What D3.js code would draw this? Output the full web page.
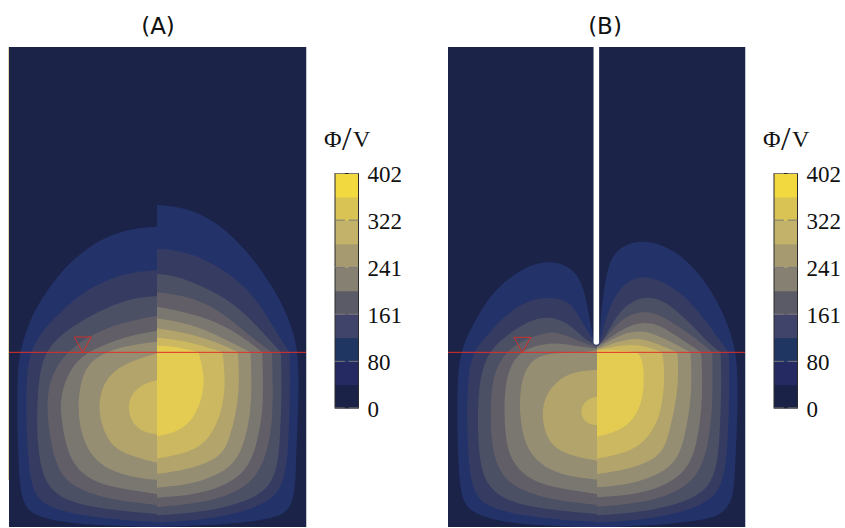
<!DOCTYPE html>
<html><head><meta charset="utf-8">
<script src="https://cdnjs.cloudflare.com/ajax/libs/d3/7.8.5/d3.min.js"></script>
<style>html,body{margin:0;background:#fff}svg{display:block}</style></head>
<body><svg id="c" width="845" height="528"></svg>
<script>
const panelTitles=["(A)","(B)"];
const tickValues=[402,322,241,161,80,0];
const maxValue=402;
const bandColors=["#1b2348","#23336a","#363b62","#4b5064","#625e68","#7a7670","#968e72","#b3a46b","#cbb860","#e4cc53"];
const barColors=["#1b2248","#252b62","#1f3562","#41446a","#5a5b66","#868072","#a69a70","#c3b26a","#d9c354","#f2d93f"];
// A repeated point marks a tight bend of the contour at the water line.
const aLeft=[
[[471,110],[400,115],[330,135],[260,175],[190,235],[121,330],[86,400],[61,480],[53,540],[52,660],[53,750],[58,880],[71,945],[102,976],[180,996],[300,1007],[471,1011]],
[[471,241],[400,246],[330,265],[260,300],[205,345],[141,405],[96,470],[80,540],[78,660],[81,750],[88,850],[102,908],[132,944],[200,968],[320,987],[471,997]],
[[471,318],[420,322],[371,332],[271,375],[171,440],[120,510],[110,660],[112,750],[123,840],[147,893],[198,933],[300,957],[471,972]],
[[471,377],[351,400],[241,450],[171,520],[145,590],[140,660],[151,750],[168,822],[197,873],[258,908],[350,932],[471,945]],
[[471,422],[371,440],[271,480],[216,525],[185,600],[180,660],[194,750],[213,812],[257,863],[330,892],[471,912]],
[[471,455],[390,465],[301,490],[246,540],[230,660],[249,750],[278,802],[328,842],[400,862],[471,870]],
[[471,490],[371,520],[310,570],[291,660],[320,752],[368,792],[471,818]],
[[471,570],[421,585],[389,620],[384,660],[398,702],[430,727],[471,733]]
];
const aRight=[
[[471,45],[520,48],[590,65],[660,105],[730,170],[790,248],[845,335],[880,425],[893,487],[896,560],[895,650],[890,750],[888,830],[884,920],[862,968],[811,988],[671,1004],[471,1011]],
[[471,176],[530,180],[600,200],[670,240],[730,285],[785,350],[831,430],[869,487],[869,487],[870,600],[867,750],[854,885],[803,943],[651,987],[471,998]],
[[471,252],[530,258],[600,285],[706,340],[791,430],[843,487],[843,487],[846,600],[840,750],[832,842],[793,918],[641,964],[471,976]],
[[471,307],[530,313],[601,332],[670,370],[740,430],[816,487],[816,487],[819,600],[817,680],[810,750],[773,878],[641,937],[471,951]],
[[471,350],[621,380],[721,435],[787,487],[787,487],[790,600],[786,680],[773,750],[743,852],[621,912],[471,923]],
[[471,385],[571,400],[671,445],[752,487],[752,487],[755,570],[753,660],[736,750],[703,832],[591,882],[471,893]],
[[471,415],[571,430],[671,465],[714,487],[714,487],[718,560],[713,650],[688,750],[663,802],[571,837],[471,852]],
[[471,443],[571,455],[668,487],[668,487],[675,560],[673,620],[657,690],[623,752],[571,787],[471,806]],
[[471,467],[531,470],[596,487],[596,487],[615,560],[606,630],[577,692],[530,727],[471,739]]
];
const bLeft=[
[[470,345],[461,335],[452,290],[440,220],[425,160],[400,120],[360,100],[320,94],[270,105],[210,140],[150,195],[106,270],[76,325],[56,390],[51,470],[51,630],[57,760],[70,822],[104,852],[178,875],[298,887],[470,893]],
[[470,345],[445,310],[425,275],[400,230],[370,208],[320,201],[270,210],[210,240],[126,330],[91,380],[80,480],[81,630],[88,730],[102,788],[132,824],[200,848],[320,867],[470,876]],
[[470,348],[430,325],[390,285],[350,265],[310,262],[270,270],[191,320],[136,375],[112,480],[112,630],[123,722],[147,773],[198,813],[300,837],[470,852]],
[[470,351],[430,340],[390,320],[350,308],[321,305],[221,340],[171,400],[150,480],[151,630],[168,702],[197,753],[258,788],[350,812],[470,825]],
[[470,355],[430,352],[390,345],[350,340],[321,340],[251,355],[211,400],[190,480],[194,630],[213,692],[257,743],[330,772],[470,792]],
[[470,360],[420,368],[351,368],[281,380],[250,430],[240,480],[237,540],[249,630],[278,682],[328,722],[400,742],[470,749]],
[[470,420],[391,425],[336,465],[311,510],[304,560],[320,632],[368,672],[470,692]],
[[470,500],[445,505],[426,525],[421,545],[430,572],[450,584],[470,586]]
];
const bRight=[
[[470,345],[478,335],[480,280],[490,180],[505,100],[530,60],[570,38],[620,32],[680,50],[740,90],[800,160],[850,250],[878,330],[890,390],[893,500],[888,630],[882,770],[873,815],[843,857],[771,873],[621,887],[470,893]],
[[470,345],[478,340],[495,270],[520,200],[560,155],[600,138],[650,145],[720,185],[780,250],[830,320],[866,367],[866,367],[867,500],[863,630],[851,762],[803,823],[650,867],[470,878]],
[[470,348],[480,345],[510,290],[545,235],[590,205],[640,200],[690,225],[750,280],[800,335],[841,367],[841,367],[844,460],[838,630],[828,722],[792,798],[640,844],[470,856]],
[[470,350],[478,345],[510,305],[550,262],[600,243],[650,250],[700,280],[760,320],[816,367],[816,367],[818,500],[808,630],[772,758],[640,817],[470,830]],
[[470,350],[478,345],[520,315],[560,290],[610,275],[660,285],[711,320],[783,367],[783,367],[788,500],[773,630],[742,732],[620,792],[470,802]],
[[470,352],[478,350],[520,325],[570,305],[610,302],[660,320],[710,345],[751,367],[751,367],[756,490],[733,630],[702,712],[590,762],[470,772]],
[[470,356],[480,355],[530,335],[580,325],[620,330],[670,350],[711,367],[711,367],[717,470],[683,630],[657,682],[570,717],[470,732]],
[[470,360],[478,358],[520,350],[571,343],[620,350],[666,367],[666,367],[675,440],[662,560],[618,632],[565,667],[470,686]],
[[470,362],[530,360],[590,367],[590,367],[606,385],[612,440],[607,510],[582,567],[540,602],[470,620]]
];
const triangleA=[[223,441],[274,441],[248,487]];
const triangleB=[[221,322],[272,322],[246,367]];
const slitB=[[468,-549],[468,336]];

const svg=d3.select("#c");
const panels=[
 {title:panelTitles[0],left:aLeft,right:aRight,tri:triangleA,x:d3.scaleLinear([27,918],[9,306]),y:d3.scaleLinear([-429,1011],[47,527]),water:487,cx:158,slit:null},
 {title:panelTitles[1],left:bLeft,right:bRight,tri:triangleB,x:d3.scaleLinear([23,914],[448,745]),y:d3.scaleLinear([-549,891],[47,527]),water:367,cx:605,slit:slitB}
];
panels.forEach((p,pi)=>{
 const [x0,x1]=p.x.domain(),[y0,y1]=p.y.domain();
 const id="clip"+pi;
 svg.append("clipPath").attr("id",id).append("rect").attr("x",p.x(x0)).attr("y",p.y(y0)).attr("width",p.x(x1)-p.x(x0)).attr("height",p.y(y1)-p.y(y0));
 const g=svg.append("g").attr("clip-path",`url(#${id})`);
 g.append("rect").attr("x",p.x(x0)).attr("y",p.y(y0)).attr("width",p.x(x1)-p.x(x0)).attr("height",p.y(y1)-p.y(y0)).attr("fill",bandColors[0]);
 const ln=d3.line().x(d=>p.x(d[0])).y(d=>p.y(d[1])).curve(d3.curveBasis);
 const draw=(set)=>set.forEach((pts,i)=>{
  g.append("path").attr("d",ln(pts)+"Z").attr("fill",bandColors[i+1]);
 });
 draw(p.left);draw(p.right);
 if(pi===0){
  svg.append("line").attr("x1",p.x(x0)-0.5).attr("x2",p.x(x0)-0.5).attr("y1",p.y(y0)).attr("y2",480).attr("stroke","#d8c98c").attr("stroke-width",1).attr("opacity",0.75);
 }
 svg.append("line").attr("x1",p.x(x1)+0.5).attr("x2",p.x(x1)+0.5).attr("y1",p.y(y0)).attr("y2",p.y(y1)).attr("stroke","#8b8f9e").attr("stroke-width",1).attr("opacity",0.5);
 if(p.slit){
  svg.append("line").attr("x1",p.x(p.slit[0][0])).attr("x2",p.x(p.slit[1][0])).attr("y1",p.y(p.slit[0][1])).attr("y2",p.y(p.slit[1][1]))
   .attr("stroke","#fff").attr("stroke-width",5.6).attr("stroke-linecap","round");
 }
 svg.append("line").attr("x1",p.x(x0)).attr("x2",p.x(x1)).attr("y1",p.y(p.water)).attr("y2",p.y(p.water)).attr("stroke","#e0302a").attr("stroke-width",1);
 svg.append("path").attr("d",d3.line().x(d=>p.x(d[0])).y(d=>p.y(d[1]))(p.tri)+"Z").attr("fill","none").attr("stroke","#cf302c").attr("stroke-width",1);
 svg.append("text").attr("x",p.cx).attr("y",34).attr("text-anchor","middle").attr("font-family","DejaVu Sans").attr("font-size",23).attr("fill","#111").text(p.title);
});

[335,774].forEach(bx=>{
 const bw=23.5;
 const yS=d3.scaleLinear([0,maxValue],[408,173.5]);
 const n=barColors.length;
 const g=svg.append("g");
 barColors.forEach((c,i)=>{
  g.append("rect").attr("x",bx).attr("width",bw).attr("y",yS((i+1)*maxValue/n)).attr("height",yS(i*maxValue/n)-yS((i+1)*maxValue/n)+0.5).attr("fill",c);
 });
 g.append("rect").attr("x",bx).attr("y",yS(maxValue)).attr("width",bw).attr("height",yS(0)-yS(maxValue)).attr("fill","none").attr("stroke","#2a2a2a").attr("stroke-width",1);
 tickValues.forEach(t=>{
  [[bx,bx+bw*0.42],[bx+bw*0.58,bx+bw]].forEach(s=>{
   g.append("line").attr("x1",s[0]).attr("x2",s[1]).attr("y1",yS(t)).attr("y2",yS(t)).attr("stroke","#77767a").attr("stroke-width",1);
  });
 });
 const ax=svg.append("g").attr("transform",`translate(${bx+bw+9},1)`).call(d3.axisRight(yS).tickValues(tickValues).tickSize(0).tickPadding(0).tickFormat(d3.format("d")));
 ax.select(".domain").remove();
 ax.selectAll("text").attr("font-family","Liberation Serif").attr("font-size",23).attr("fill","#111");
 const t=svg.append("text").attr("y",147).attr("font-family","Liberation Serif").attr("font-size",24).attr("fill","#111");
 t.append("tspan").attr("x",bx-11).text("Φ");
 t.append("tspan").attr("x",bx+7).attr("font-size",34).attr("y",150).text("/");
 t.append("tspan").attr("x",bx+18).attr("y",147).text("V");
});
</script></body></html>
